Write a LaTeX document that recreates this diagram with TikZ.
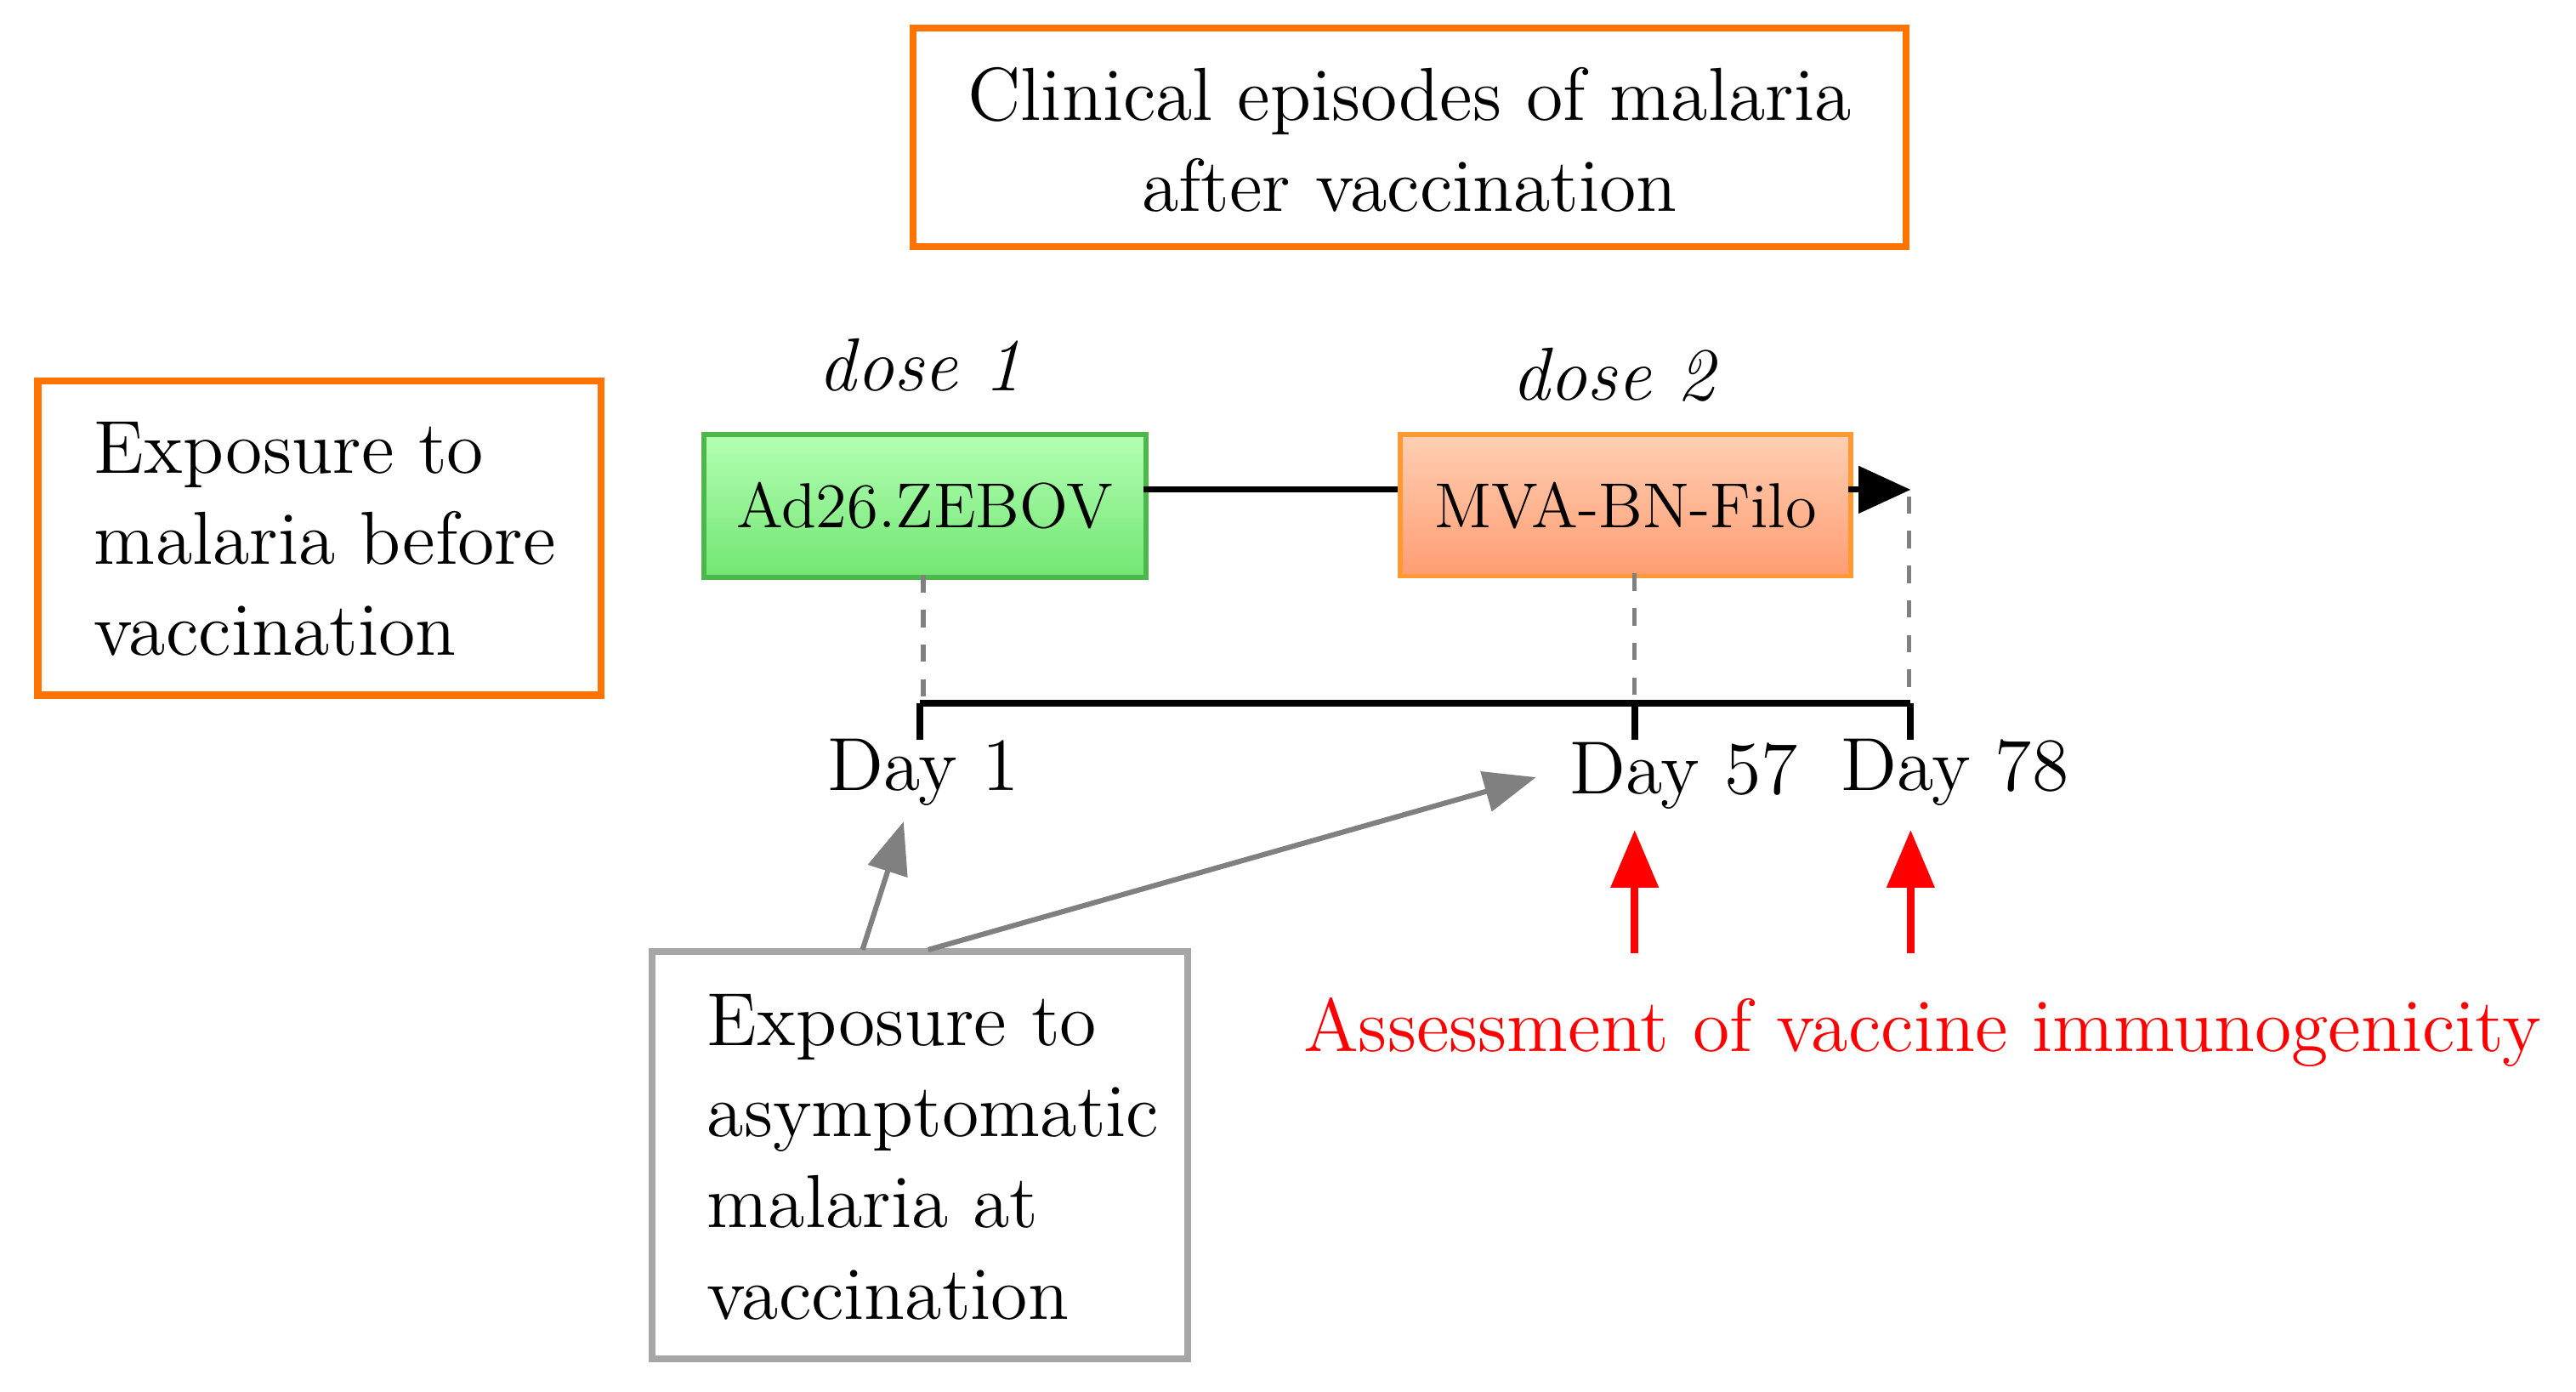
\documentclass[tikz,border=0pt]{standalone}
\usetikzlibrary{arrows.meta}
\begin{document}
\begin{tikzpicture}[x=0.01cm,y=-0.01cm,
  big/.style={font=\fontsize{13}{15.8}\selectfont},
  lbl/.style={font=\fontsize{11}{13}\selectfont},
  obox/.style={draw=orange!90!red,line width=1.2pt},
  gbox/.style={draw=gray!70,line width=1.2pt},
  gdash/.style={draw=gray,dashed,line width=0.8pt},
  garr/.style={draw=gray,line width=0.9pt,-{Triangle[length=9pt,width=7pt]}},
  rarr/.style={draw=red,line width=1.4pt,-{Triangle[length=10pt,width=8pt]}}]
\useasboundingbox (0,0) rectangle (1568,847);
% top box
\draw[obox] (556,17) rectangle (1160,150);
\node[big,align=center] (top) at (858,85) {Clinical episodes of malaria\\after vaccination};
% left box
\draw[obox] (23,232) rectangle (366,423);
\node[big,align=left,anchor=west] (left) at (45,328) {Exposure to\\malaria before\\vaccination};
% dose boxes
\node[lbl,draw=green!60!black!70,line width=0.8pt,minimum width=2.69cm,minimum height=0.87cm,inner xsep=2pt,
  top color=green!30!white,bottom color=green!50!white!90!black,anchor=north west] (d1) at (427,263) {Ad26.ZEBOV};
\node[lbl,draw=orange!80,line width=0.8pt,minimum width=2.74cm,minimum height=0.86cm,inner xsep=2pt,
  top color=red!25!orange!30!white,bottom color=red!40!orange!55!white,anchor=north west] (d2) at (851,263) {MVA-BN-Filo};
\node[font=\fontsize{13}{15}\selectfont\itshape] (l1) at (560,222) {dose 1};
\node[font=\fontsize{13}{15}\selectfont\itshape] (l2) at (982,228) {dose 2};
\coordinate (end) at (1163,298);
\draw[line width=1pt] (427+269,298) -- (851,298);
\draw[line width=1pt,-{Triangle[length=9pt,width=8pt]}] (1125,298) -- (end);
% timeline
\coordinate (t1) at (560,428); \coordinate (t2) at (995,428); \coordinate (t3) at (1163,428);
\draw[gdash] (562,350) -- (562,428);
\draw[gdash] (995,349) -- (t2);
\draw[gdash] (1162,302) -- (1162,428);
\draw[line width=1.2pt] (t1) -- (t3);
\draw[line width=1.2pt] (t1) -- ++(0,22) (t2) -- ++(0,22) (t3) -- ++(0,22);
\node[big] (day1) at (562,470) {Day 1};
\node[big] (day57) at (1025,472) {Day 57};
\node[big] (day78) at (1190,470) {Day 78};
% red
\coordinate (r1) at (995,580); \coordinate (r2) at (1163,580);
\draw[rarr] (r1) -- (995,505);
\draw[rarr] (r2) -- (1163,505);
\node[big,text=red] (assess) at (1170,628) {Assessment of vaccine immunogenicity};
% gray box
\draw[gbox] (397,579) rectangle (723,827);
\node[big,align=left,anchor=west] (asym) at (418,704) {Exposure to\\asymptomatic\\malaria at\\vaccination};
\coordinate (g1) at (525,578); \coordinate (g2) at (565,578);
\draw[garr] (g1) -- (550,500);
\draw[garr] (g2) -- (935,473);
\end{tikzpicture}
\end{document}
